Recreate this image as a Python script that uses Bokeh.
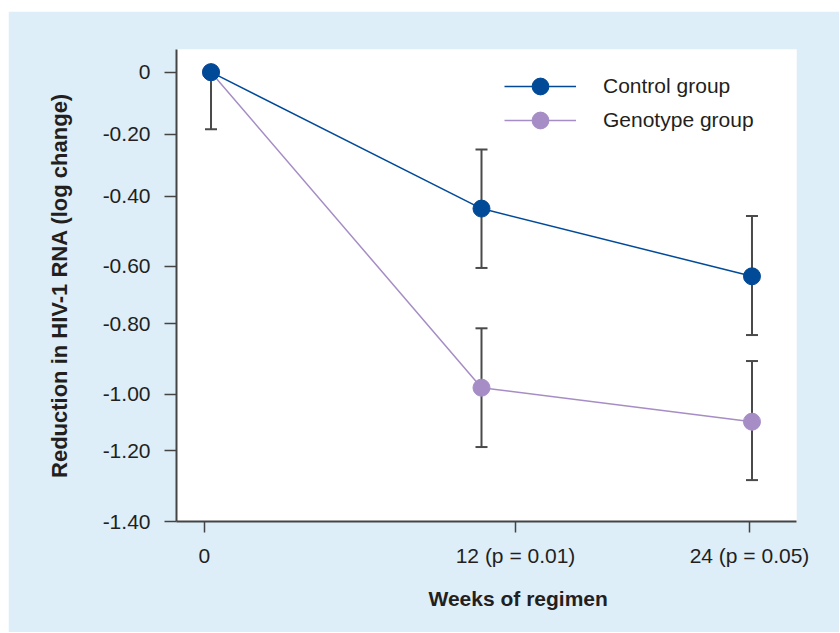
from bokeh.plotting import figure
from bokeh.models import (ColumnDataSource, FixedTicker, Legend, LegendItem, Title, Range1d, Spacer)
from bokeh.layouts import column, row
from bokeh.embed import file_html
from bokeh.resources import INLINE

# ---- data ----
weeks = [0, 12, 24]
control_mean = [0.0, -0.425, -0.636]
control_low = [-0.178, -0.610, -0.819]
control_high = [0.0, -0.241, -0.448]
genotype_mean = [0.0, -0.983, -1.089]
genotype_low = [0.0, -1.168, -1.271]
genotype_high = [0.0, -0.798, -0.900]

x_tick_pos = [-0.30, 13.51, 23.89]
x_tick_labels = ["0", "12 (p = 0.01)", "24 (p = 0.05)"]
y_tick_pos = [0.0, -0.194, -0.386, -0.604, -0.784, -1.004, -1.180, -1.40]
y_tick_labels = ["0", "-0.20", "-0.40", "-0.60", "-0.80", "-1.00", "-1.20", "-1.40"]

BG = "#ddeef9"
BLUE = "#004a97"
LAV = "#a68dc5"
BAR = "#4a4a4a"
TXT = "#231f20"
FONT = "Liberation Sans"

p = figure(width=831, height=621, output_backend="svg", toolbar_location=None,
           x_range=Range1d(-1.531, 25.975), y_range=Range1d(-1.40, 0.0707),
           min_border_left=168, min_border_right=43, min_border_top=38, min_border_bottom=111)
p.background_fill_color = "white"
p.border_fill_color = BG
p.outline_line_color = None
p.xgrid.visible = False
p.ygrid.visible = False

src_c = ColumnDataSource(dict(x=weeks, y=control_mean, lo=control_low, hi=control_high))
src_g = ColumnDataSource(dict(x=weeks, y=genotype_mean, lo=genotype_low, hi=genotype_high))

# error bars
for src in (src_g, src_c):
    p.segment(x0="x", y0="lo", x1="x", y1="hi", source=src, line_color=BAR, line_width=2)
    p.scatter(x="x", y="lo", source=src, marker="dash", size=12, line_color=BAR, line_width=2)
    p.scatter(x="x", y="hi", source=src, marker="dash", size=12, line_color=BAR, line_width=2)

lg = p.line(x="x", y="y", source=src_g, line_color=LAV, line_width=1.5)
sg = p.scatter(x="x", y="y", source=src_g, size=17, fill_color=LAV, line_color=LAV)
lc = p.line(x="x", y="y", source=src_c, line_color=BLUE, line_width=1.5)
sc = p.scatter(x="x", y="y", source=src_c, size=17, fill_color=BLUE, line_color=BLUE)

def make_legend(label, rends, loc):
    return Legend(items=[LegendItem(label=label, renderers=rends)],
                  location=loc, orientation="vertical",
                  glyph_width=72, glyph_height=42, spacing=0, padding=0, margin=0,
                  label_standoff=27, label_text_font=FONT, label_text_font_size="21px",
                  label_text_color=TXT, border_line_color=None, background_fill_alpha=0)

p.add_layout(make_legend("Control group", [lc, sc], (328, 414)))
p.add_layout(make_legend("Genotype group", [lg, sg], (328, 380)))

for ax in (p.xaxis[0], p.yaxis[0]):
    ax.axis_line_color = "#444444"
    ax.axis_line_width = 2
    ax.major_tick_line_color = "#444444"
    ax.major_tick_line_width = 1.5
    ax.major_tick_in = 0
    ax.minor_tick_line_color = None
    ax.major_label_text_font = FONT
    ax.major_label_text_font_size = "21px"
    ax.major_label_text_color = TXT

p.xaxis.ticker = FixedTicker(ticks=x_tick_pos)
p.xaxis.major_label_overrides = dict(zip(x_tick_pos, x_tick_labels))
p.xaxis.major_tick_out = 11
p.xaxis.major_label_standoff = 11

p.yaxis.ticker = FixedTicker(ticks=y_tick_pos)
p.yaxis.major_label_overrides = dict(zip(y_tick_pos, y_tick_labels))
p.yaxis.major_tick_out = 12
p.yaxis.major_label_standoff = 14
p.yaxis.axis_label = "Reduction in HIV-1 RNA (log change)"
p.yaxis.axis_label_text_font = FONT
p.yaxis.axis_label_text_font_size = "22px"
p.yaxis.axis_label_text_font_style = "bold"
p.yaxis.axis_label_text_color = TXT
p.yaxis.axis_label_standoff = 28

xt = Title(text="Weeks of regimen", align="left", offset=252, standoff=34,
           vertical_align="top",
           text_font=FONT, text_font_size="21px", text_font_style="bold", text_color=TXT)
p.add_layout(xt, "below")

layout = row(Spacer(width=8, height=10), column(Spacer(height=11, width=10), p, spacing=0), spacing=0)
open("out.html", "w").write(file_html(layout, INLINE))
